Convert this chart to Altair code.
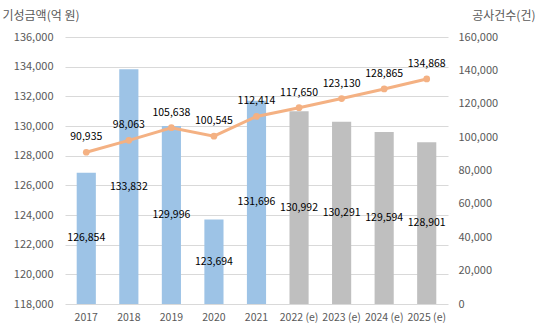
import altair as alt
import pandas as pd

years = ["2017", "2018", "2019", "2020", "2021", "2022 (e)", "2023 (e)", "2024 (e)", "2025 (e)"]
amounts = [126854, 133832, 129996, 123694, 131696, 130992, 130291, 129594, 128901]
counts = [90935, 98063, 105638, 100545, 112414, 117650, 123130, 128865, 134868]
kinds = ["actual"] * 5 + ["forecast"] * 4

df = pd.DataFrame({"year": years, "amount": amounts, "count": counts, "kind": kinds})

FONT = "Noto Sans CJK KR"
GREY = "#595959"

x = alt.X("year:N", sort=years,
          scale=alt.Scale(paddingInner=0.55, paddingOuter=0.275),
          axis=alt.Axis(title=None, labelAngle=0, domain=False, ticks=False,
                        labelPadding=8, labelFontSize=10.5, labelColor=GREY, labelFont=FONT))

yscale_left = alt.Scale(domain=[118000, 136000], nice=False, zero=False)
yscale_right = alt.Scale(domain=[0, 160000], nice=False)

left_axis = alt.Axis(title="기성금액(억 원)", titleAngle=0, titleX=-63, titleY=-22,
                     titleAlign="left", titleBaseline="middle", titleFontSize=12,
                     titleFontWeight="normal", titleColor=GREY, titleFont=FONT,
                     values=list(range(118000, 136001, 2000)), format=",d",
                     domain=False, ticks=False, labelPadding=12, labelFontSize=11,
                     labelColor=GREY, labelFont=FONT,
                     grid=True, gridColor="#D9D9D9", gridWidth=1)

right_axis = alt.Axis(orient="right", title="공사건수(건)", titleAngle=0, titleX=87, titleY=-22,
                      titleAlign="right", titleBaseline="middle", titleFontSize=12,
                      titleFontWeight="normal", titleColor=GREY, titleFont=FONT,
                      values=list(range(0, 160001, 20000)), format=",d",
                      domain=False, ticks=False, labelPadding=10, labelFontSize=11,
                      labelColor=GREY, labelFont=FONT, grid=False)

base = alt.Chart(df)

bars = base.mark_bar().encode(
    x=x,
    y=alt.Y("amount:Q", scale=yscale_left, axis=left_axis),
    y2=alt.datum(118000),
    color=alt.Color("kind:N", scale=alt.Scale(domain=["actual", "forecast"],
                                              range=["#9DC3E6", "#BFBFBF"]), legend=None),
)

bar_text = base.transform_calculate(mid="(118000 + datum.amount) / 2").mark_text(
    fontSize=10.5, font=FONT, color="#000000", baseline="middle"
).encode(
    x=x,
    y=alt.Y("mid:Q", scale=yscale_left, axis=left_axis),
    text=alt.Text("amount:Q", format=",d"),
)

left = alt.layer(bars, bar_text)

line = base.mark_line(color="#F4B183", strokeWidth=3,
                      point=alt.OverlayMarkDef(filled=True, color="#F4B183", size=45, opacity=1)).encode(
    x=x,
    y=alt.Y("count:Q", scale=yscale_right, axis=right_axis),
)

line_text = base.mark_text(fontSize=10.5, font=FONT, color="#000000", dy=-15,
                           baseline="middle").encode(
    x=x,
    y=alt.Y("count:Q", scale=yscale_right, axis=right_axis),
    text=alt.Text("count:Q", format=",d"),
)

right = alt.layer(line, line_text)

chart = alt.layer(left, right).resolve_scale(y="independent", color="independent").properties(
    width=383, height=267,
    autosize=alt.AutoSizeParams(type="none"),
    padding={"left": 65, "top": 37, "right": 92, "bottom": 26},
).configure_view(stroke=None)

chart.save("out.html", embed_options={"renderer": "svg", "actions": False})
